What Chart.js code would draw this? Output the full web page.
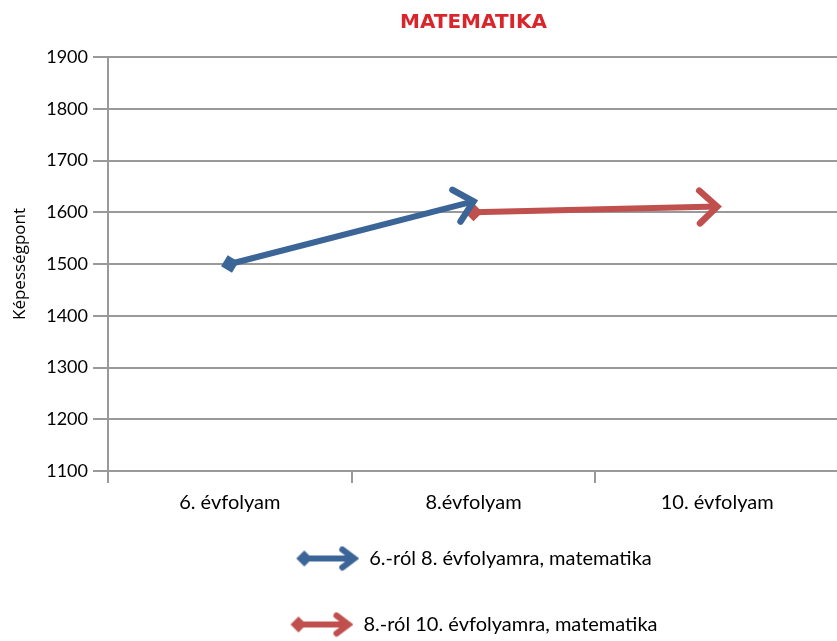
<!DOCTYPE html>
<html>
<head>
<meta charset="utf-8">
<script src="https://cdn.jsdelivr.net/npm/chart.js@4.4.1/dist/chart.umd.min.js"></script>
<style>
  html, body { margin: 0; padding: 0; background: #fff; overflow: hidden; }
  #wrap { width: 848px; height: 659px; }
</style>
</head>
<body>
<div id="wrap"><canvas id="chart"></canvas></div>
<script>
const categories = ["6. évfolyam", "8.évfolyam", "10. évfolyam"];
const seriesNames = ["6.-ról 8. évfolyamra, matematika", "8.-ról 10. évfolyamra, matematika"];
const blueValues = [1500, 1621, null];
const redValues = [null, 1600, 1611];
const yTicks = [1100, 1200, 1300, 1400, 1500, 1600, 1700, 1800, 1900];

const BLUE = "#3B6497";
const RED = "#C0504D";
const GRID = "#999999";
const FONT = "Lato, 'Open Sans', sans-serif";

// small icon for the legend: diamond, thick line, open arrow head
function legendIcon(color) {
    const c = document.createElement("canvas");
    c.width = 64;
    c.height = 26;
    const g = c.getContext("2d");
    g.fillStyle = color;
    g.strokeStyle = color;
    g.beginPath();
    g.moveTo(1, 13);
    g.lineTo(9, 5);
    g.lineTo(17, 13);
    g.lineTo(9, 21);
    g.closePath();
    g.fill();
    g.lineWidth = 6;
    g.beginPath();
    g.moveTo(10, 13);
    g.lineTo(58, 13);
    g.stroke();
    g.lineCap = "round";
    g.lineJoin = "miter";
    g.lineWidth = 6;
    g.beginPath();
    g.moveTo(47, 4);
    g.lineTo(59, 13);
    g.lineTo(47, 22);
    g.stroke();
    return c;
}

const icons = [legendIcon(BLUE), legendIcon(RED)];

// arrow head at the last point of each series
const arrowHeads = {
    id: "arrowHeads",
    afterDatasetsDraw(chart) {
        const ctx = chart.ctx;
        chart.data.datasets.forEach((ds, i) => {
            const meta = chart.getDatasetMeta(i);
            const pts = meta.data.filter((p, j) => ds.data[j] !== null);
            if (pts.length < 2) return;
            const tip = pts[pts.length - 1];
            const prev = pts[pts.length - 2];
            const a = Math.atan2(tip.y - prev.y, tip.x - prev.x);
            const len = 24, spread = 0.75;
            ctx.save();
            ctx.strokeStyle = ds.borderColor;
            ctx.lineWidth = 6.5;
            ctx.lineCap = "round";
            ctx.lineJoin = "miter";
            ctx.beginPath();
            ctx.moveTo(tip.x - len * Math.cos(a - spread), tip.y - len * Math.sin(a - spread));
            ctx.lineTo(tip.x, tip.y);
            ctx.lineTo(tip.x - len * Math.cos(a + spread), tip.y - len * Math.sin(a + spread));
            ctx.stroke();
            ctx.restore();
        });
    },
    // legend icons drawn into the (empty) legend boxes
    afterDraw(chart) {
        const lg = chart.legend;
        if (!lg || !lg.legendHitBoxes) return;
        const bw = lg.options.labels.boxWidth;
        lg.legendHitBoxes.forEach((hb, i) => {
            const img = icons[i];
            const cx = hb.left + bw / 2;
            const cy = hb.top + hb.height / 2;
            chart.ctx.drawImage(img, cx - img.width / 2, cy - img.height / 2);
        });
    }
};

function firstPointOnly(values) {
    const first = values.findIndex(v => v !== null);
    return ctx => (ctx.dataIndex === first ? 9 : 0);
}

new Chart(document.getElementById("chart"), {
    type: "line",
    data: {
        labels: categories,
        datasets: [
            {
                label: seriesNames[0],
                data: blueValues,
                borderColor: BLUE,
                backgroundColor: BLUE,
                borderWidth: 6,
                pointStyle: "rectRot",
                pointRadius: firstPointOnly(blueValues),
                pointBorderWidth: 0,
                pointRotation: -14,
                fill: false
            },
            {
                label: seriesNames[1],
                data: redValues,
                borderColor: RED,
                backgroundColor: RED,
                borderWidth: 6,
                pointStyle: "rectRot",
                pointRadius: firstPointOnly(redValues),
                pointBorderWidth: 0,
                fill: false
            }
        ]
    },
    options: {
        responsive: true,
        maintainAspectRatio: false,
        animation: false,
        layout: { padding: { left: 0, right: 1, top: 0, bottom: 0 } },
        plugins: {
            title: {
                display: true,
                text: "MATEMATIKA",
                color: "#D9262C",
                fullSize: false,
                font: { family: "'DejaVu Sans', sans-serif", size: 20, weight: "bold" },
                padding: { top: 11, bottom: 22 }
            },
            legend: {
                position: "bottom",
                fullSize: false,
                labels: {
                    boxWidth: 64,
                    boxHeight: 49,
                    padding: 17,
                    color: "#000",
                    font: { family: FONT, size: 20 },
                    generateLabels: chart => chart.data.datasets.map((ds, i) => ({
                        text: ds.label,
                        datasetIndex: i,
                        fillStyle: "rgba(0,0,0,0)",
                        strokeStyle: "rgba(0,0,0,0)",
                        lineWidth: 0
                    }))
                }
            },
            tooltip: { enabled: false }
        },
        scales: {
            x: {
                offset: true,
                grid: {
                    offset: true,
                    drawOnChartArea: false,
                    drawTicks: true,
                    tickLength: 12,
                    color: GRID,
                    lineWidth: 2
                },
                border: { color: GRID, width: 2 },
                ticks: {
                    color: "#000",
                    padding: 8,
                    maxRotation: 0,
                    font: { family: FONT, size: 20 }
                },
                afterFit: scale => { scale.height = 46; }
            },
            y: {
                min: 1100,
                max: 1900,
                afterBuildTicks: scale => { scale.ticks = yTicks.map(v => ({ value: v })); },
                grid: {
                    color: GRID,
                    lineWidth: 2,
                    tickLength: 15
                },
                border: { color: GRID, width: 2 },
                ticks: {
                    color: "#000",
                    padding: 5,
                    font: { family: FONT, size: 18 },
                    callback: v => String(v)
                },
                title: {
                    display: true,
                    text: "Képességpont",
                    color: "#000",
                    font: { family: "'Open Sans', sans-serif", size: 17 },
                    padding: { top: 10, bottom: 0 }
                },
                afterFit: scale => { scale.width = 108; }
            }
        }
    },
    plugins: [arrowHeads]
});
</script>
</body>
</html>
